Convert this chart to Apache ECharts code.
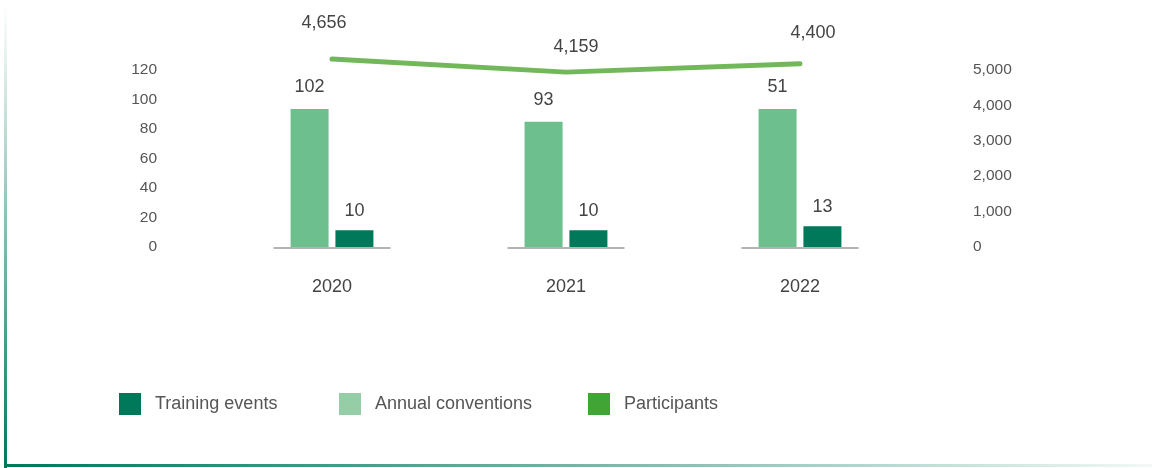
<!DOCTYPE html>
<html>
<head>
<meta charset="utf-8">
<script src="https://cdn.jsdelivr.net/npm/echarts@6/dist/echarts.min.js"></script>
<style>
html,body{margin:0;padding:0;background:#fff;}
#chart{width:1152px;height:468px;}
</style>
</head>
<body>
<div id="chart"></div>
<script>
// ---- data ----
const years = ['2020', '2021', '2022'];
const annualConventionsLabels = [102, 93, 51];     // printed values
const annualConventionsBars = [93.6, 85, 93.6];    // bar heights as drawn
const trainingEventsLabels = [10, 10, 13];
const trainingEventsBars = [11.4, 11.4, 14.1];
const participantsLabels = [4656, 4159, 4400];
const participantsLine = [5310, 4940, 5180];      // line heights as drawn (right axis)
const leftTicks = [0, 120, 20];                   // min, max, interval
const rightTicks = [0, 5000, 1000];

const FONT = '"Liberation Sans", Arial, Helvetica, sans-serif';
const fmt = v => Number(v).toLocaleString('en-US');

// label placement tweaks for the line labels (style only)
const lineLabelPlace = [{d: 26, dx: -8}, {d: 16, dx: 10}, {d: 21, dx: 13}];

function legendAt(left, name, color) {
  return {
    left: left, top: 393, padding: 0, itemWidth: 22, itemHeight: 22,
    icon: 'rect', selectedMode: false,
    textStyle: {fontFamily: FONT, fontSize: 18, color: '#555', padding: [0, 0, 0, 9]},
    data: [{name: name, itemStyle: {color: color}}]
  };
}

const chart = echarts.init(document.getElementById('chart'), null, {renderer: 'canvas'});
chart.setOption({
  animation: false,
  backgroundColor: '#ffffff',
  textStyle: {fontFamily: FONT},
  grid: {left: 215, right: 235, top: 70, bottom: 221},
  legend: [
    legendAt(119, 'Training events', '#00785a'),
    legendAt(339, 'Annual conventions', '#95cea6'),
    legendAt(588, 'Participants', '#40a535')
  ],
  xAxis: {
    type: 'category', data: years,
    axisLine: {show: false}, axisTick: {show: false},
    axisLabel: {fontFamily: FONT, fontSize: 18, color: '#444', margin: 31}
  },
  yAxis: [
    {type: 'value', min: leftTicks[0], max: leftTicks[1], interval: leftTicks[2],
     splitLine: {show: false}, axisLine: {show: false}, axisTick: {show: false},
     axisLabel: {fontFamily: FONT, fontSize: 15.5, color: '#555', margin: 58}},
    {type: 'value', min: rightTicks[0], max: rightTicks[1], interval: rightTicks[2],
     splitLine: {show: false}, axisLine: {show: false}, axisTick: {show: false},
     axisLabel: {fontFamily: FONT, fontSize: 15.5, color: '#555', margin: 56, formatter: fmt}}
  ],
  series: [
    {
      name: 'Annual conventions', type: 'bar', yAxisIndex: 0,
      data: annualConventionsBars, barWidth: 38, barGap: '18%',
      itemStyle: {color: '#6dbf8e'},
      label: {show: true, position: 'top', distance: 13, fontFamily: FONT, fontSize: 18, color: '#444',
              formatter: p => annualConventionsLabels[p.dataIndex]}
    },
    {
      name: 'Training events', type: 'bar', yAxisIndex: 0,
      data: trainingEventsBars, barWidth: 38, barGap: '18%',
      itemStyle: {color: '#00785a'},
      label: {show: true, position: 'top', distance: 10, fontFamily: FONT, fontSize: 18, color: '#444',
              formatter: p => trainingEventsLabels[p.dataIndex]}
    },
    {
      name: 'Participants', type: 'line', yAxisIndex: 1, clip: false,
      data: participantsLine.map((v, i) => ({
        value: v,
        label: {distance: lineLabelPlace[i].d, offset: [lineLabelPlace[i].dx, 0]}
      })),
      symbol: 'circle', symbolSize: 1, showSymbol: true,
      lineStyle: {color: '#72b85a', width: 5, cap: 'round', join: 'round'},
      itemStyle: {color: '#72b85a'},
      label: {show: true, position: 'top', fontFamily: FONT, fontSize: 18, color: '#444',
              formatter: p => fmt(participantsLabels[p.dataIndex])},
      z: 5
    },
    {
      name: 'baseline', type: 'custom', yAxisIndex: 0, silent: true,
      data: years.map((y, i) => [i, 0]),
      renderItem: (params, api) => {
        const c = api.coord([api.value(0), 0]);
        const bw = api.size([1, 0])[0];
        return {type: 'line', shape: {x1: c[0] - bw / 4, y1: c[1] + 1, x2: c[0] + bw / 4, y2: c[1] + 1},
                style: {stroke: '#9a9a9a', lineWidth: 1.5}};
      },
      z: 1
    }
  ],
  graphic: [
    {type: 'rect', left: 4, top: 0, shape: {width: 3, height: 468}, silent: true,
     style: {fill: new echarts.graphic.LinearGradient(0, 0, 0, 1, [
       {offset: 0, color: 'rgba(0,120,90,0)'}, {offset: 0.1, color: 'rgba(0,120,90,0.08)'},
       {offset: 1, color: 'rgba(0,120,90,1)'}])}},
    {type: 'rect', left: 4, top: 464, shape: {width: 1148, height: 3}, silent: true,
     style: {fill: new echarts.graphic.LinearGradient(0, 0, 1, 0, [
       {offset: 0, color: 'rgba(0,120,90,1)'}, {offset: 0.6, color: 'rgba(0,120,90,0.45)'},
       {offset: 1, color: 'rgba(0,120,90,0.05)'}])}}
  ]
});
</script>
</body>
</html>
